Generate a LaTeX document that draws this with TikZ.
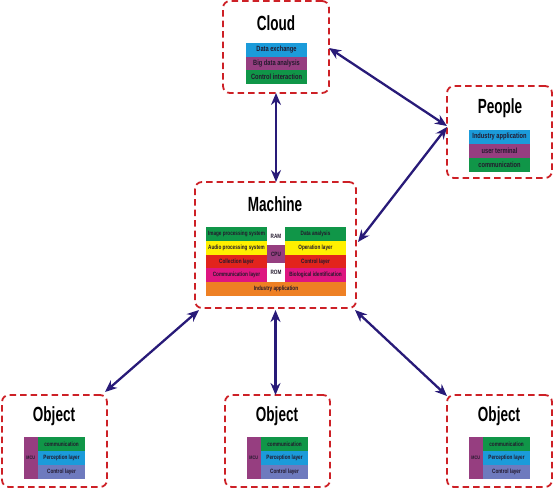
\documentclass[tikz,border=0pt]{standalone}
\usepackage{fontspec}
\newfontfamily\cond[FakeStretch=0.75]{Liberation Sans}
\newfontfamily\condt[FakeStretch=0.66]{Liberation Sans}
\usetikzlibrary{arrows.meta}
\definecolor{boxred}{RGB}{205,32,38}
\definecolor{navy}{RGB}{40,26,120}
\definecolor{cblue}{RGB}{27,155,218}
\definecolor{cpurple}{RGB}{150,62,128}
\definecolor{cgreen}{RGB}{16,150,72}
\definecolor{cyellow}{RGB}{255,240,0}
\definecolor{cred}{RGB}{226,36,28}
\definecolor{cmagenta}{RGB}{222,22,128}
\definecolor{corange}{RGB}{238,128,36}
\definecolor{cslate}{RGB}{110,122,190}
\definecolor{ctext}{RGB}{35,25,45}
\begin{document}
\begin{tikzpicture}[x=1pt,y=-1pt,
  frame/.style n args={2}{draw=boxred, line width=1.8pt, dash pattern=on 6.5pt off 4pt,
    rounded corners=7pt, anchor=north west, inner sep=0, outer sep=0,
    minimum width=#1, minimum height=#2},
  title/.style={font=\condt\bfseries\fontsize{20.5}{22}\selectfont, inner sep=0},
  cell/.style={anchor=north west, inner sep=0, outer sep=0, text=ctext},
  bigcell/.style={cell, font=\cond\bfseries\fontsize{7.6}{8}\selectfont},
  smallcell/.style={cell, font=\cond\bfseries\fontsize{6.2}{7}\selectfont},
  link/.style={draw=navy, line width=2.3pt,
    {Stealth[length=12pt,width=10pt]}-{Stealth[length=12pt,width=10pt]}}]
\useasboundingbox (0,0) rectangle (553,489);

% Cloud
\node[frame={106pt}{92pt}] (cloud) at (223,1) {};
\node[title] (cloudt) at (276,23) {Cloud};
\node[bigcell, fill=cblue, minimum width=61pt, minimum height=14pt] (cl1) at (246,43) {Data exchange};
\node[bigcell, fill=cpurple, minimum width=61pt, minimum height=13.5pt] (cl2) at (246,57) {Big data analysis};
\node[bigcell, fill=cgreen, minimum width=61pt, minimum height=13.5pt] (cl3) at (246,70.5) {Control interaction};

% People
\node[frame={105pt}{92pt}] (people) at (447,86) {};
\node[title] (peoplet) at (500,108) {People};
\node[bigcell, fill=cblue, minimum width=61pt, minimum height=14pt] (pe1) at (469,130) {Industry application};
\node[bigcell, fill=cpurple, minimum width=61pt, minimum height=14pt] (pe2) at (469,144) {user terminal};
\node[bigcell, fill=cgreen, minimum width=61pt, minimum height=14pt] (pe3) at (469,158) {communication};

% Machine
\node[frame={161pt}{126pt}] (machine) at (195,182) {};
\node[title] (machinet) at (275,204) {Machine};
\node[smallcell, fill=cgreen, minimum width=61pt, minimum height=13.8pt] (m1) at (206,227) {Image processing system};
\node[smallcell, fill=cyellow, minimum width=61pt, minimum height=13.8pt] (m2) at (206,240.8) {Audio processing system};
\node[smallcell, fill=cred, minimum width=61pt, minimum height=13.8pt] (m3) at (206,254.6) {Collection layer};
\node[smallcell, fill=cmagenta, minimum width=61pt, minimum height=13.8pt] (m4) at (206,268.4) {Communication layer};
\node[smallcell, fill=cgreen, minimum width=61pt, minimum height=13.8pt] (m5) at (285,227) {Data analysis};
\node[smallcell, fill=cyellow, minimum width=61pt, minimum height=13.8pt] (m6) at (285,240.8) {Operation layer};
\node[smallcell, fill=cred, minimum width=61pt, minimum height=13.8pt] (m7) at (285,254.6) {Control layer};
\node[smallcell, fill=cmagenta, minimum width=61pt, minimum height=13.8pt] (m8) at (285,268.4) {Biological identification};
\node[smallcell, fill=corange, minimum width=140pt, minimum height=14pt] (m9) at (206,282.2) {Industry application};
\node[smallcell, fill=white, minimum width=18pt, minimum height=18pt] (ram) at (267,227) {RAM};
\node[smallcell, fill=cpurple, minimum width=18pt, minimum height=18pt] (cpu) at (267,245) {CPU};
\node[smallcell, fill=white, minimum width=18pt, minimum height=19.2pt] (rom) at (267,263) {ROM};

% Objects
\foreach \i/\x in {1/2,2/225,3/447}{
  \node[frame={105pt}{92pt}] (obj\i) at (\x,395) {};
  \node[title] (objt\i) at ({\x+52},416) {Object};
  \node[smallcell, fill=cpurple, minimum width=14.5pt, minimum height=42pt,
        font=\cond\bfseries\fontsize{5}{6}\selectfont] (mcu\i) at ({\x+21.5},437) {MCU};
  \node[smallcell, fill=cgreen, minimum width=47pt, minimum height=14pt] (oa\i) at ({\x+36},437) {communication};
  \node[smallcell, fill=cblue, minimum width=47pt, minimum height=14pt] (ob\i) at ({\x+36},451) {Perception layer};
  \node[smallcell, fill=cslate, minimum width=47pt, minimum height=14pt] (oc\i) at ({\x+36},465) {Control layer};
}

% Connectors
\draw[link] (cloud.south) -- (cloud.south |- machine.north);
\draw[link] ([yshift=-1pt]cloud.east) -- ([yshift=6pt]people.west);
\draw[link] ([yshift=5pt]people.west) -- ([yshift=3pt,xshift=2pt]machine.east);
\draw[link] ([xshift=4pt,yshift=-2pt]machine.south west) -- ([xshift=-2pt,yshift=3pt]obj1.north east);
\draw[link] ([yshift=-2pt]machine.south |- machine.south) -- (machine.south |- obj2.north);
\draw[link] ([xshift=-1pt,yshift=-2pt]machine.south east) -- ([yshift=-1pt]obj3.north west);
\end{tikzpicture}
\end{document}
